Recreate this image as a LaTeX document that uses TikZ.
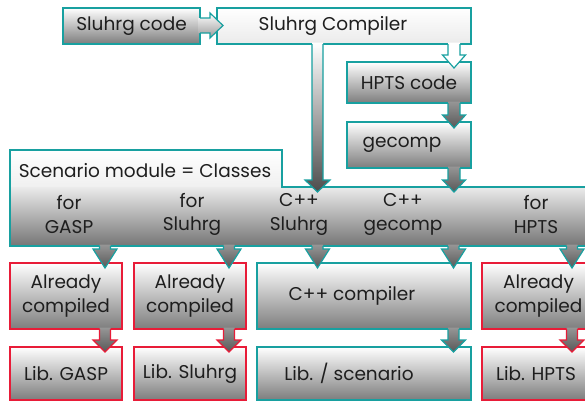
\documentclass[tikz,border=0pt]{standalone}
\usepackage{fontspec}
\setmainfont{Poppins}
\definecolor{tealc}{RGB}{24,160,160}
\definecolor{redc}{RGB}{232,28,56}
\definecolor{arrtop}{RGB}{150,150,150}
\definecolor{arrbot}{RGB}{88,88,88}
\definecolor{boxbot}{RGB}{125,125,125}
\definecolor{txt}{RGB}{30,30,30}
% down block arrow: #1 fill options, #2 outline colour, #3 x, #4 y top, #5 y of head base, #6 y tip, #7 shaft half width, #8 head half width
\newcommand\DnArrow[8]{%
  \path[#1] ({#3-#7},{#4-1.5}) -- ({#3-#7},#5) -- ({#3-#8},#5) -- (#3,#6) -- ({#3+#8},#5) -- ({#3+#7},#5) -- ({#3+#7},{#4-1.5}) -- cycle;
  \draw[#2, line width=1.2pt, line join=miter] ({#3-#7},#4) -- ({#3-#7},#5) -- ({#3-#8},#5) -- (#3,#6) -- ({#3+#8},#5) -- ({#3+#7},#5) -- ({#3+#7},#4);
}
\begin{document}
\begin{tikzpicture}[x=1pt,y=-1pt,
  font=\fontsize{18.5}{23.5}\selectfont,
  every node/.style={text=txt, inner sep=0pt, align=center},
  boxbase/.style={rectangle, line width=1.2pt},
  tealbox/.style={boxbase, draw=tealc},
  redbox/.style={boxbase, draw=redc},
  graded/.style={top color=white, bottom color=boxbot},
  darkarr/.style={top color=arrtop, bottom color=arrbot},
]
\useasboundingbox (0,0) rectangle (585,402);
\clip (0,0) rectangle (585,402);
\fill[white] (0,0) rectangle (585,402);

% top row
\node[tealbox, graded, minimum width=137pt, minimum height=36pt] (code) at (131.5,26) {Sluhrg code};
\node[tealbox, top color=white, bottom color=white!92!black, minimum width=254pt, minimum height=36pt] (comp) at (344,26) {Sluhrg Compiler\hspace{22pt}};
\node[tealbox, graded, minimum width=124pt, minimum height=41pt] (hpts) at (409,82.5) {HPTS code};
\node[tealbox, graded, minimum width=124pt, minimum height=46pt] (gec) at (409,145) {gecomp\hspace{14pt}};

% scenario module
\path[top color=white, bottom color=white!94!black] (10,150) rectangle (282,187);
\path[top color=white!92!black, bottom color=white!46!black] (10,187) rectangle (600,246);
\draw[tealc, line width=1.2pt] (10,150) -- (282,150) -- (282,187) -- (600,187) -- (600,246) -- (10,246) -- cycle;
\node (scen) at (145,171) {Scenario module = Classes};
\node (tgasp) at (69,214.5) {for\\GASP};
\node (tsl) at (192,214.5) {for\\Sluhrg};
\node (tcs) at (299,214.5) {C++\\Sluhrg};
\node (tcg) at (403,214.5) {C++\\gecomp};
\node (thp) at (536,214.5) {for\\HPTS};

% lower rows
\node[redbox, graded, minimum width=112pt, minimum height=66pt] (b1) at (66,296) {Already\\compiled};
\node[redbox, graded, minimum width=112pt, minimum height=66pt] (b2) at (190,296) {Already\\compiled};
\node[tealbox, graded, minimum width=214pt, minimum height=66pt] (b3) at (364,296) {C++ compiler\hspace{24pt}};
\node[redbox, graded, minimum width=113pt, minimum height=66pt] (b4) at (538.5,296) {Already\hspace{6pt}\\compiled\hspace{6pt}};
\node[redbox, graded, minimum width=112pt, minimum height=53pt] (l1) at (66,373.5) {Lib. GASP};
\node[redbox, graded, minimum width=112pt, minimum height=53pt] (l2) at (190,373.5) {Lib. Sluhrg};
\node[tealbox, graded, minimum width=214pt, minimum height=53pt] (l3) at (364,373.5) {Lib. / scenario\hspace{30pt}};
\node[redbox, graded, minimum width=113pt, minimum height=53pt] (l4) at (538.5,373.5) {Lib. HPTS\hspace{5pt}};

% arrows
% Sluhrg code -> compiler (right)
\path[top color=white, bottom color=white!60!black] (198.5,18) -- (210,18) -- (210,13) -- (223,25.5) -- (210,38) -- (210,33) -- (198.5,33) -- cycle;
\draw[tealc, line width=1.2pt, line join=miter] (200,18) -- (210,18) -- (210,13) -- (223,25.5) -- (210,38) -- (210,33) -- (200,33);
% compiler -> band (long)
\DnArrow{top color=white, bottom color=white!30!black}{tealc}{317.5}{44}{180}{192}{5.5}{12.5}
% compiler -> HPTS code (hollow)
\DnArrow{fill=white}{tealc}{454}{44}{55}{68}{6}{11.5}
\DnArrow{darkarr}{tealc}{454}{103}{115}{128}{6}{11.5}
\DnArrow{darkarr}{tealc}{454}{168}{180}{192}{6}{11.5}
% band -> row 1
\DnArrow{darkarr}{tealc}{105}{246}{249}{268}{5.5}{12}
\DnArrow{darkarr}{tealc}{229}{246}{249}{268}{5.5}{12}
\DnArrow{darkarr}{tealc}{317.5}{246}{249}{268}{5.5}{12}
\DnArrow{darkarr}{tealc}{453.5}{246}{249}{268}{5.5}{12}
\DnArrow{darkarr}{tealc}{572}{246}{249}{268}{5.5}{12}
% row 1 -> row 2
\DnArrow{darkarr}{redc}{105}{329}{340}{352}{5.5}{12}
\DnArrow{darkarr}{redc}{229}{329}{340}{352}{5.5}{12}
\DnArrow{darkarr}{tealc}{453.5}{329}{340}{352}{5.5}{12}
\DnArrow{darkarr}{redc}{572}{329}{340}{352}{5.5}{12}
\end{tikzpicture}
\end{document}
